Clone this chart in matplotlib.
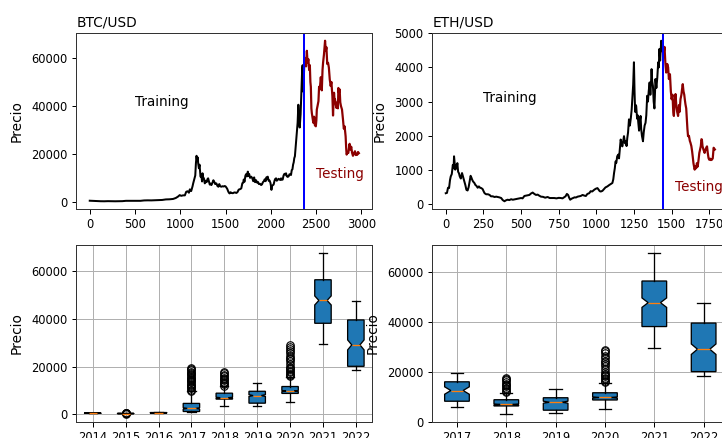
import numpy as np
import matplotlib.pyplot as plt

# figure is drawn at 72 dpi so sizes below are in pixels
DPI = 72
BTC_SPLIT = 2370
ETH_SPLIT = 1441

# BTC/USD close price (day index, price)
btc_day = [0, 40, 80, 120, 160, 200, 240, 280, 320, 360, 400, 440, 480, 520, 560, 600, 640, 680,
           720, 760, 800, 840, 880, 920, 950, 975, 993, 1010, 1030, 1050, 1065, 1080, 1095, 1105,
           1120, 1135, 1142, 1155, 1165, 1172, 1179, 1186, 1192, 1197, 1205, 1212, 1218, 1223,
           1232, 1240, 1245, 1252, 1260, 1270, 1280, 1290, 1300, 1307, 1315, 1325, 1335, 1343,
           1355, 1365, 1375, 1385, 1398, 1410, 1420, 1430, 1440, 1453, 1465, 1478, 1490, 1500,
           1508, 1518, 1528, 1536, 1544, 1555, 1565, 1580, 1595, 1605, 1618, 1630, 1645, 1660,
           1673, 1685, 1695, 1700, 1709, 1718, 1725, 1735, 1745, 1752, 1760, 1770, 1783, 1795,
           1805, 1815, 1825, 1837, 1847, 1857, 1868, 1880, 1892, 1902, 1912, 1922, 1932, 1942,
           1950, 1958, 1965, 1975, 1985, 1995, 2002, 2006, 2012, 2020, 2030, 2040, 2047, 2057,
           2065, 2075, 2085, 2095, 2105, 2112, 2122, 2130, 2140, 2150, 2160, 2167, 2175, 2185,
           2195, 2205, 2215, 2222, 2230, 2238, 2245, 2252, 2258, 2265, 2275, 2285, 2295, 2303,
           2310, 2318, 2328, 2338, 2345, 2350, 2356, 2362, 2370,
           2380, 2388, 2397, 2405, 2414, 2422, 2430, 2436, 2441, 2447, 2452, 2460, 2468, 2477,
           2485, 2496, 2502, 2507, 2515, 2525, 2532, 2540, 2551, 2562, 2570, 2576, 2586, 2598,
           2606, 2613, 2622, 2631, 2640, 2650, 2660, 2668, 2679, 2686, 2692, 2697, 2703, 2708,
           2716, 2723, 2732, 2740, 2745, 2752, 2759, 2766, 2774, 2785, 2796, 2805, 2814, 2825,
           2831, 2836, 2845, 2855, 2862, 2869, 2878, 2887, 2896, 2906, 2915, 2928, 2938, 2945,
           2953, 2962, 2971]
btc_price = [460, 380, 330, 250, 230, 280, 240, 230, 250, 280, 420, 430, 420, 400, 420, 580, 620, 600,
             640, 720, 780, 1000, 1050, 1200, 1600, 2200, 2800, 2500, 2700, 2700, 4200, 4400, 3800, 5200,
             4500, 6500, 7700, 9500, 11000, 16000, 19200, 17000, 18500, 16100, 14000, 15500, 12500, 10500,
             11000, 8500, 11900, 10200, 9800, 7700, 8800, 8200, 9500, 9800, 8600, 7200, 7600, 7000,
             8000, 9000, 8300, 7400, 7700, 6600, 6300, 7400, 6500, 6300, 6500, 6400, 6600, 6400,
             6000, 5400, 4400, 3800, 3500, 4000, 3700, 3600, 3900, 3900, 3700, 4000, 5100, 5300,
             5600, 7800, 8000, 9300, 8400, 10800, 11500, 10600, 12600, 10800, 11600, 10000, 10500, 9800,
             8600, 10200, 8200, 9000, 8000, 8300, 7400, 7500, 7000, 7300, 8200, 8600, 9400, 8600,
             10200, 9700, 10500, 8800, 8900, 7900, 6300, 5000, 6600, 6900, 7200, 8800, 9500, 9800,
             8800, 9200, 9600, 9300, 9100, 9800, 9200, 9300, 11000, 11700, 11400, 11900, 10700, 10400,
             10600, 11500, 11400, 11200, 13200, 13600, 15500, 16500, 18200, 19000, 23500, 28500, 33000, 40500,
             35000, 31000, 36500, 47000, 55000, 57000, 46000, 50000, 58500,
             60000, 56500, 63000, 58000, 59500, 55000, 57000, 50000, 48000, 39000, 37000, 35000, 33000, 35500,
             32000, 31500, 34000, 38500, 40000, 42000, 48000, 47000, 52000, 46500, 55000, 58000, 61500, 67200,
             63000, 64500, 57500, 58000, 56000, 51000, 48300, 50000, 44000, 36000, 42000, 45500, 42500, 42700,
             40500, 39200, 41500, 39000, 47500, 45500, 46900, 41500, 39900, 38500, 34300, 30500, 31500, 27300,
             22500, 19700, 20500, 20400, 22500, 24200, 21800, 23000, 20500, 19200, 20000, 21100, 19500, 20000,
             19600, 20800, 20300]

# ETH/USD close price (day index, price)
eth_day = [0, 8, 15, 22, 28, 33, 40, 47, 52, 55, 59, 63, 68, 72, 77, 82, 88, 93, 100, 108, 115, 122,
           130, 137, 145, 152, 158, 165, 170, 175, 181, 190, 197, 203, 212, 220, 228, 236, 245, 252,
           258, 268, 280, 291, 300, 312, 324, 335, 345, 355, 368, 378, 385, 390, 398, 410, 422, 434,
           445, 456, 467, 478, 490, 500, 510, 522, 533, 545, 555, 565, 577, 588, 599, 610, 620, 632,
           645, 660, 676, 690, 705, 720, 735, 750, 764, 775, 785, 795, 804, 812, 820, 826, 835, 845,
           855, 864, 875, 886, 896, 908, 920, 930, 940, 952, 962, 972, 985, 995, 1007, 1015, 1022,
           1029, 1040, 1050, 1060, 1073, 1085, 1096, 1106, 1112, 1117, 1122, 1127, 1132, 1138, 1145,
           1150, 1155, 1161, 1165, 1172, 1178, 1183, 1190, 1195, 1200, 1205, 1210, 1216, 1222, 1228,
           1234, 1240, 1244, 1249, 1253, 1257, 1261, 1264, 1270, 1274, 1278, 1283, 1287, 1293, 1297,
           1302, 1309, 1314, 1320, 1326, 1331, 1337, 1342, 1347, 1353, 1358, 1362, 1366, 1370, 1375,
           1380, 1385, 1392, 1398, 1404, 1410, 1414, 1418, 1423, 1430, 1436, 1441,
           1447, 1452, 1458, 1463, 1470, 1476, 1481, 1488, 1494, 1499, 1505, 1510, 1514, 1518, 1522,
           1525, 1530, 1536, 1542, 1548, 1552, 1558, 1564, 1568, 1573, 1578, 1583, 1587, 1591, 1596,
           1600, 1604, 1608, 1614, 1620, 1624, 1630, 1635, 1639, 1644, 1648, 1652, 1657, 1662, 1667,
           1672, 1678, 1683, 1688, 1693, 1697, 1700, 1704, 1710, 1714, 1718, 1724, 1729, 1734, 1739,
           1744, 1749, 1755, 1760, 1766, 1772, 1778, 1786]
eth_price = [320, 330, 480, 470, 700, 810, 880, 1150, 1050, 1400, 1200, 1010, 1150, 1050, 1200, 950, 900, 810, 750, 910, 800, 700,
             560, 420, 400, 500, 650, 830, 780, 720, 665, 620, 560, 540, 480, 520, 480, 470, 440, 370,
             320, 290, 290, 270, 230, 230, 210, 220, 210, 200, 180, 120, 100, 85, 110, 130, 120, 145,
             130, 140, 150, 160, 170, 180, 170, 240, 250, 260, 270, 310, 340, 300, 270, 280, 250, 220,
             215, 190, 210, 180, 180, 180, 170, 185, 180, 170, 200, 230, 300, 270, 180, 130, 160, 180,
             200, 195, 220, 230, 240, 270, 250, 240, 300, 320, 380, 370, 420, 450, 470, 420, 380,
             370, 390, 440, 490, 520, 560, 590, 620, 730, 910, 1050, 1250, 1210, 1400, 1450,
             1340, 1600, 1890, 1800, 1690, 1850, 1990, 1780, 1850, 1700, 1940, 2100, 2480, 2300, 2500,
             2770, 3200, 3500, 4150, 3300, 2700, 2900, 2870, 2500, 2600, 2380, 2150, 2400, 2580, 2200,
             2000, 1840, 2100, 2300, 2380, 2600, 3170, 3000, 3300, 3560, 3200, 3500, 3950, 3600, 3460,
             3000, 2800, 3660, 3400, 3700, 4150, 4000, 4540, 4200, 4780, 4500, 4450,
             4440, 4600, 4100, 3850, 4100, 4000, 3660, 3800, 3300, 3070, 3200, 2700, 2580, 2900, 3100,
             3220, 2900, 2700, 2580, 2900, 2700, 3070, 3200, 3350, 3510, 3300, 3200, 3050, 2920, 2800,
             2500, 2200, 1990, 2000, 1850, 1800, 1700, 1550, 1400, 1200, 1100, 1010, 1100, 1050, 1200,
             1100, 1300, 1500, 1600, 1700, 1900, 1890, 1700, 1600, 1550, 1500, 1600, 1650, 1690, 1500,
             1350, 1300, 1330, 1290, 1300, 1340, 1650, 1600]

# yearly box plot statistics of BTC (whole history)
btc_years = ['2014', '2015', '2016', '2017', '2018', '2019', '2020', '2021', '2022']
btc_whislo = [320, 200, 360, 780, 3200, 3400, 4900, 29500, 18500]
btc_q1 = [350, 230, 420, 1100, 6300, 4600, 8700, 38200, 20100]
btc_med = [390, 245, 580, 2400, 6900, 7800, 9700, 47800, 29100]
btc_q3 = [430, 270, 660, 4500, 8800, 9600, 11600, 56500, 39600]
btc_whishi = [480, 330, 980, 9600, 11700, 13000, 15700, 67700, 47500]
btc_cilo = [378, 240, 560, 2120, 6700, 7400, 9460, 45900, 27000]
btc_cihi = [402, 250, 600, 2680, 7100, 8200, 9940, 49700, 31200]
btc_fliers = [[], [380, 410, 430, 450, 180], [],
              [9800, 10300, 10800, 11300, 11700, 12200, 12700, 13300, 13800, 14300, 14800, 15300,
               15800, 16300, 16800, 17300, 17800, 18400, 19000, 19500],
              [11900, 12500, 13200, 13700, 14300, 14800, 15200, 16000, 16600, 17100, 17500],
              [],
              [15900, 16400, 17000, 17700, 18300, 18800, 19300, 19800, 21000, 22500, 23300, 23800,
               24500, 25500, 26500, 27500, 28300, 28900],
              [], []]

# yearly box plot statistics of BTC over the ETH date range
eth_years = ['2017', '2018', '2019', '2020', '2021', '2022']
eth_whislo = [5800, 3200, 3400, 4900, 29500, 18500]
eth_q1 = [8200, 6300, 4600, 8700, 38200, 20100]
eth_med = [12500, 6900, 7800, 9700, 47800, 29100]
eth_q3 = [16000, 8800, 9600, 11600, 56500, 39600]
eth_whishi = [19600, 11700, 13000, 15700, 67700, 47500]
eth_cilo = [11000, 6700, 7400, 9460, 45900, 27000]
eth_cihi = [14000, 7100, 8200, 9940, 49700, 31200]
eth_fliers = [[]] + btc_fliers[4:]


def style_axes(ax):
    ''' ticks, spines and label sizes '''
    ax.tick_params(labelsize=11.5, length=4.5, width=1, pad=4.5)
    for sp in ax.spines.values():
        sp.set_linewidth(1.0)
        sp.set_color('#333333')
    ax.set_ylabel('Precio', fontsize=13.7, labelpad=7.5)


def plot_series(ax, name, day, price, split, train_xy, test_xy, xticks, yticks):
    ''' price line split into training and testing part '''
    day = np.array(day)
    price = np.array(price)
    train = day <= split
    test = day >= split
    ax.plot(day[train], price[train], color='black', lw=2)
    ax.plot(day[test], price[test], color='#8b0000', lw=2.2)
    ax.axvline(split, color='blue', lw=2)
    ax.text(train_xy[0], train_xy[1], 'Training', fontsize=13.5)
    ax.text(test_xy[0], test_xy[1], 'Testing', fontsize=13.5, color='#8b0000')
    ax.set_title(name, loc='left', fontsize=13.7, pad=6)
    ax.set_xticks(xticks)
    ax.set_yticks(yticks)
    style_axes(ax)


def plot_boxes(ax, years, lo, q1, med, q3, hi, cilo, cihi, fliers):
    ''' notched yearly box plot from precomputed stats '''
    stats = []
    for i in range(len(years)):
        stats.append(dict(label=years[i], whislo=lo[i], q1=q1[i], med=med[i], q3=q3[i],
                          whishi=hi[i], cilo=cilo[i], cihi=cihi[i], fliers=fliers[i]))
    ax.bxp(stats, shownotches=True, patch_artist=True,
           boxprops=dict(facecolor='#1f77b4', edgecolor='black', linewidth=1.3),
           whiskerprops=dict(color='black', linewidth=1.3),
           capprops=dict(color='black', linewidth=1.3),
           medianprops=dict(color='#ff7f0e', linewidth=1.3),
           flierprops=dict(marker='o', markerfacecolor='none', markeredgecolor='black',
                           markersize=7.5, markeredgewidth=1.1))
    ax.grid(True, color='#b0b0b0', lw=1.0)
    style_axes(ax)


if __name__ == '__main__':
    fig = plt.figure(figsize=(722 / DPI, 438 / DPI), dpi=DPI)
    w, h = 296 / 722, 176.6 / 438
    ax1 = fig.add_axes([76.3 / 722, 1 - 209.3 / 438, w, h])
    ax2 = fig.add_axes([432.3 / 722, 1 - 209.3 / 438, w, h])
    ax3 = fig.add_axes([76.3 / 722, 1 - 421.7 / 438, w, h])
    ax4 = fig.add_axes([432.3 / 722, 1 - 421.7 / 438, w, h])

    plot_series(ax1, 'BTC/USD', btc_day, btc_price, BTC_SPLIT, (500, 40000), (2500, 10000),
                range(0, 3001, 500), range(0, 60001, 20000))
    plot_series(ax2, 'ETH/USD', eth_day, eth_price, ETH_SPLIT, (250, 3000), (1520, 400),
                range(0, 1751, 250), range(0, 5001, 1000))
    plot_boxes(ax3, btc_years, btc_whislo, btc_q1, btc_med, btc_q3, btc_whishi,
               btc_cilo, btc_cihi, btc_fliers)
    plot_boxes(ax4, eth_years, eth_whislo, eth_q1, eth_med, eth_q3, eth_whishi,
               eth_cilo, eth_cihi, eth_fliers)

    fig.savefig('out.png', dpi=DPI)
